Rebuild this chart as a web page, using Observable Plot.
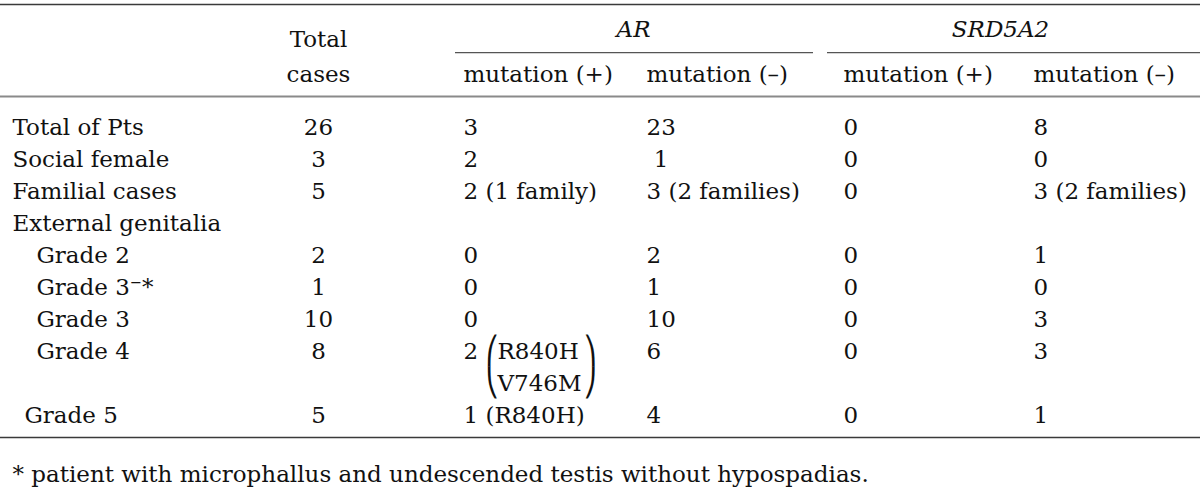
<!DOCTYPE html>
<html><head><meta charset="utf-8">
<script src="https://cdn.jsdelivr.net/npm/d3@7"></script>
<script src="https://cdn.jsdelivr.net/npm/@observablehq/plot@0.6"></script>
<style>
html,body{margin:0;padding:0;background:#fff}
#chart svg{display:block}
</style>
</head><body><div id="chart"></div>
<script>
// ---------------- data ----------------
const rowLabels = ["Total of Pts","Social female","Familial cases","External genitalia","Grade 2","Grade 3\u207B*","Grade 3","Grade 4","Grade 5"];
const rowLevel  = [0,0,0,0,2,2,2,2,1];
const totalCases = ["26","3","5","","2","1","10","8","5"];
const arMutPos   = ["3","2","2 (1 family)","","0","0","0","2","1 (R840H)"];
const arMutPosVariants = [[],[],[],[],[],[],[],["R840H","V746M"],[]];
const arMutNeg   = ["23","\u00A01","3 (2 families)","","2","1","10","6","4"];
const srdMutPos  = ["0","0","0","","0","0","0","0","0"];
const srdMutNeg  = ["8","0","3 (2 families)","","1","0","3","3","1"];
const genes = ["AR","SRD5A2"];
const totalHeader = ["Total","cases"];
const subHeaders = ["mutation (+)","mutation (\u2013)","mutation (+)","mutation (\u2013)"];
const footnote = "* patient with microphallus and undescended testis without hypospadias.";

// ---------------- layout ----------------
const W = 1200, H = 498;
const FONT = "DejaVu Serif";
const FS = 23;
const colX = {label: 12, total: 318, arPos: 463, arNeg: 646, srdPos: 843, srdNeg: 1033};
const indent = [0, 12, 24];
const geneCenter = [633, 1000];
const geneSpan = [[455, 813], [827, 1200]];
const rowPx = 32, row0 = 127;           // pixel centre of the first body row
const yDomain = [-row0 / rowPx, (H - row0) / rowPx];
const yPos = {topRule: -3.84, gene: -3.06, total: -2.76, span: -2.34, sub: -1.66, headRule: -0.97};

// row slots (a row with stacked variants takes extra lines)
const rowSlot = [];
{ let s = 0; rowLabels.forEach((_, i) => { rowSlot.push(s); s += Math.max(1, arMutPosVariants[i].length); }); }
const lastSlot = rowSlot[rowSlot.length - 1];
yPos.bottomRule = lastSlot + 0.69;
yPos.foot = lastSlot + 1.84;

// text measuring for the bracket placement
const ctx = document.createElement("canvas").getContext("2d");
ctx.font = `${FS}px "${FONT}"`;
const tw = s => ctx.measureText(s).width;

// ---------------- cells ----------------
const cells = [];
const colData = {total: totalCases, arPos: arMutPos, arNeg: arMutNeg, srdPos: srdMutPos, srdNeg: srdMutNeg};
rowLabels.forEach((lab, i) => {
  cells.push({x: colX.label + indent[rowLevel[i]], y: rowSlot[i], text: lab, anchor: "start"});
  for (const [k, arr] of Object.entries(colData)) {
    if (!arr[i]) continue;
    cells.push({x: colX[k], y: rowSlot[i], text: arr[i], anchor: k === "total" ? "middle" : "start"});
  }
});
// stacked variant notes with tall parentheses
const brackets = [];
arMutPosVariants.forEach((v, i) => {
  if (!v.length) return;
  const x0 = colX.arPos + tw(arMutPos[i] + " ");
  const pw = 10;
  const maxW = Math.max(...v.map(tw));
  v.forEach((s, j) => {
    cells.push({x: x0 + pw + 2, y: rowSlot[i] + j, text: s, anchor: "start"});
    const first = j === 0, last = j === v.length - 1;
    brackets.push({x: x0, y: rowSlot[i] + j, text: first ? "\u239B" : last ? "\u239D" : "\u239C"});
    brackets.push({x: x0 + pw + 4 + maxW, y: rowSlot[i] + j, text: first ? "\u239E" : last ? "\u23A0" : "\u239F"});
  });
});

const headerCells = genes.map((g, k) => ({x: geneCenter[k], y: yPos.gene, text: g}));
const totalHead = totalHeader.map((t, k) => ({x: colX.total, y: k === 0 ? yPos.total : yPos.sub, text: t}));
const subHead = subHeaders.map((t, k) => ({x: [colX.arPos, colX.arNeg, colX.srdPos, colX.srdNeg][k], y: yPos.sub, text: t}));
const spanRules = geneSpan.map(([a, b]) => ({x1: a, x2: b, y: yPos.span}));

const chart = Plot.plot({
  width: W, height: H,
  margin: 0,
  style: {fontFamily: FONT, fontSize: FS + "px", color: "#111", background: "#fff"},
  x: {type: "linear", domain: [0, W], range: [0, W], axis: null},
  y: {type: "linear", domain: yDomain, range: [0, H], axis: null},
  marks: [
    Plot.ruleY([yPos.topRule], {x1: 0, x2: W, stroke: "#3a3a3a", strokeWidth: 1.5}),
    Plot.ruleY([yPos.headRule], {x1: 0, x2: W, stroke: "#8a8a8a", strokeWidth: 2}),
    Plot.ruleY(spanRules, {y: "y", x1: "x1", x2: "x2", stroke: "#555", strokeWidth: 1.2}),
    Plot.ruleY([yPos.bottomRule], {x1: 0, x2: W, stroke: "#3a3a3a", strokeWidth: 1.5}),
    Plot.text(headerCells, {x: "x", y: "y", text: "text", textAnchor: "middle", fontStyle: "italic", fill: "#111", fontSize: FS}),
    Plot.text(totalHead, {x: "x", y: "y", text: "text", textAnchor: "middle", fill: "#111", fontSize: FS}),
    Plot.text(subHead, {x: "x", y: "y", text: "text", textAnchor: "start", fill: "#111", fontSize: FS}),
    Plot.text(cells.filter(d => d.anchor === "start"), {x: "x", y: "y", text: "text", textAnchor: "start", fill: "#111", fontSize: FS}),
    Plot.text(cells.filter(d => d.anchor === "middle"), {x: "x", y: "y", text: "text", textAnchor: "middle", fill: "#111", fontSize: FS}),
    Plot.text(brackets, {x: "x", y: "y", text: "text", textAnchor: "start", fill: "#111", fontSize: 27, fontFamily: "DejaVu Sans"}),
    Plot.text([footnote], {x: colX.label, y: () => yPos.foot, text: d => d, textAnchor: "start", fill: "#111", fontSize: FS})
  ]
});
document.getElementById("chart").appendChild(chart);
</script>
</body></html>
